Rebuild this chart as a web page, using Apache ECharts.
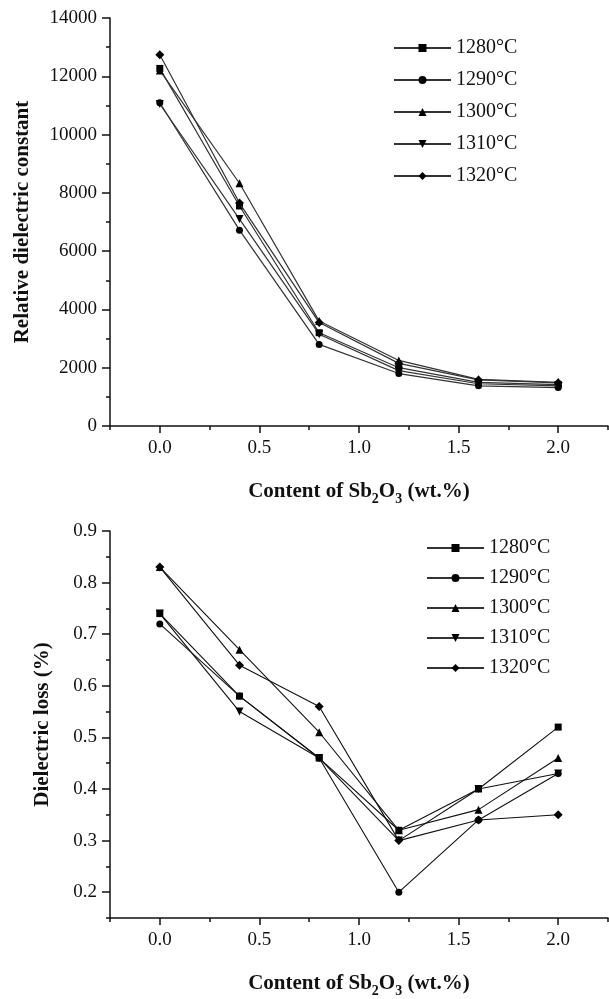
<!DOCTYPE html>
<html>
<head>
<meta charset="utf-8">
<script src="https://cdn.jsdelivr.net/npm/echarts@6/dist/echarts.min.js"></script>
<style>
html,body{margin:0;padding:0;background:#fff;}
#main{width:609px;height:999px;}
</style>
</head>
<body>
<div id="main"></div>
<script>
// ---- data ----
const xValues = [0, 0.4, 0.8, 1.2, 1.6, 2.0];
const seriesNames = ['1280°C', '1290°C', '1300°C', '1310°C', '1320°C'];

// Relative dielectric constant
const eps1280 = [12270, 7550, 3200, 2000, 1500, 1420];
const eps1290 = [11090, 6720, 2800, 1800, 1380, 1320];
const eps1300 = [12200, 8330, 3600, 2250, 1600, 1500];
const eps1310 = [11050, 7100, 3150, 1900, 1450, 1380];
const eps1320 = [12740, 7650, 3550, 2150, 1580, 1480];

// Dielectric loss (%)
const loss1280 = [0.74, 0.58, 0.46, 0.32, 0.40, 0.52];
const loss1290 = [0.72, 0.58, 0.46, 0.20, 0.34, 0.43];
const loss1300 = [0.83, 0.67, 0.51, 0.32, 0.36, 0.46];
const loss1310 = [0.74, 0.55, 0.46, 0.30, 0.40, 0.43];
const loss1320 = [0.83, 0.64, 0.56, 0.30, 0.34, 0.35];

// tick labels
const xMajorTicks = [0, 0.5, 1.0, 1.5, 2.0];
const xMinorTicks = [-0.25, 0.25, 0.75, 1.25, 1.75, 2.25];
const lossMajorTicks = [0.2, 0.3, 0.4, 0.5, 0.6, 0.7, 0.8, 0.9];
const lossMinorTicks = [0.15, 0.25, 0.35, 0.45, 0.55, 0.65, 0.75, 0.85];

// ---- styling ----
const serif = '"Liberation Serif", "DejaVu Serif", serif';
const symbols = ['rect', 'circle', 'triangle', 'path://M0,0 L10,0 L5,10 Z', 'diamond'];
const symbolSizes = [7, 7, 8, 8, 9];
const epsData = [eps1280, eps1290, eps1300, eps1310, eps1320];
const lossData = [loss1280, loss1290, loss1300, loss1310, loss1320];

const labelStyle = {fontFamily: serif, fontSize: 19, color: '#111'};
const axisLine = {show: true, onZero: false, lineStyle: {color: '#111', width: 1.5}};

const xTitle = '{b|Content of Sb}{s|2}{b|O}{s|3}{b| (wt.%)}';
const xTitleStyle = {
  rich: {
    b: {fontFamily: serif, fontSize: 21, fontWeight: 'bold', color: '#111', lineHeight: 28, verticalAlign: 'middle'},
    s: {fontFamily: serif, fontSize: 14, fontWeight: 'bold', color: '#111', lineHeight: 28, verticalAlign: 'bottom'}
  }
};

function xAxes(gridIndex) {
  return [
    {
      type: 'value', gridIndex: gridIndex, min: -0.25, max: 2.25, position: 'bottom',
      axisLine: axisLine,
      axisTick: {show: true, length: 7, inside: false, customValues: xMajorTicks, lineStyle: {color: '#111', width: 1.5}},
      axisLabel: {show: true, customValues: xMajorTicks, margin: 13, formatter: v => v.toFixed(1), ...labelStyle},
      splitLine: {show: false},
      name: xTitle, nameLocation: 'middle', nameGap: 52, nameTextStyle: xTitleStyle
    },
    {
      type: 'value', gridIndex: gridIndex, min: -0.25, max: 2.25, position: 'bottom',
      axisLine: {show: false, onZero: false},
      axisTick: {show: true, length: 4, customValues: xMinorTicks, lineStyle: {color: '#111', width: 1.5}},
      axisLabel: {show: false},
      splitLine: {show: false}
    }
  ];
}

const option = {
  backgroundColor: '#fff',
  animation: false,
  grid: [
    {left: 110, top: 18, width: 498, height: 408, containLabel: false},
    {left: 110, top: 531, width: 498, height: 392, containLabel: false}
  ],
  legend: [
    {
      data: seriesNames, left: 388, top: 33, orient: 'vertical',
      itemWidth: 57, itemHeight: 10, itemGap: 12,
      textStyle: {fontFamily: serif, fontSize: 20, color: '#111', lineHeight: 20},
      selectedMode: false
    },
    {
      data: seriesNames, left: 421, top: 533, orient: 'vertical',
      itemWidth: 57, itemHeight: 10, itemGap: 10,
      textStyle: {fontFamily: serif, fontSize: 20, color: '#111', lineHeight: 20},
      selectedMode: false
    }
  ],
  xAxis: [...xAxes(0), ...xAxes(1)],
  yAxis: [
    {
      type: 'value', gridIndex: 0, min: 0, max: 14000, interval: 2000, position: 'left',
      axisLine: axisLine,
      axisTick: {show: true, length: 8, lineStyle: {color: '#111', width: 1.5}},
      minorTick: {show: true, splitNumber: 2, length: 4, lineStyle: {color: '#111', width: 1.5}},
      axisLabel: {margin: 13, formatter: v => String(v), ...labelStyle},
      splitLine: {show: false}, minorSplitLine: {show: false},
      name: 'Relative dielectric constant', nameLocation: 'middle', nameGap: 77,
      nameTextStyle: {fontFamily: serif, fontSize: 21, fontWeight: 'bold', color: '#111'}
    },
    {
      type: 'value', gridIndex: 1, min: 0.15, max: 0.9, position: 'left',
      axisLine: axisLine,
      axisTick: {show: true, length: 8, customValues: lossMajorTicks, lineStyle: {color: '#111', width: 1.5}},
      axisLabel: {margin: 13, customValues: lossMajorTicks, formatter: v => v.toFixed(1), ...labelStyle},
      splitLine: {show: false},
      name: 'Dielectric loss (%)', nameLocation: 'middle', nameGap: 57,
      nameTextStyle: {fontFamily: serif, fontSize: 21, fontWeight: 'bold', color: '#111'}
    },
    {
      type: 'value', gridIndex: 1, min: 0.15, max: 0.9, position: 'left',
      axisLine: {show: false, onZero: false},
      axisTick: {show: true, length: 4, customValues: lossMinorTicks, lineStyle: {color: '#111', width: 1.5}},
      axisLabel: {show: false},
      splitLine: {show: false}
    }
  ],
  series: []
};

seriesNames.forEach((name, i) => {
  option.series.push({
    name: name, type: 'line', xAxisIndex: 0, yAxisIndex: 0,
    data: xValues.map((x, j) => [x, epsData[i][j]]),
    symbol: symbols[i], symbolSize: symbolSizes[i],
    itemStyle: {color: '#000'},
    lineStyle: {color: '#333', width: 1.2},
    z: 3 + i
  });
});
seriesNames.forEach((name, i) => {
  option.series.push({
    name: name, type: 'line', xAxisIndex: 2, yAxisIndex: 1,
    data: xValues.map((x, j) => [x, lossData[i][j]]),
    symbol: symbols[i], symbolSize: symbolSizes[i],
    itemStyle: {color: '#000'},
    lineStyle: {color: '#111', width: 1.1},
    z: 3 + i
  });
});

const chart = echarts.init(document.getElementById('main'), null, {renderer: 'canvas'});
chart.setOption(option);
</script>
</body>
</html>
